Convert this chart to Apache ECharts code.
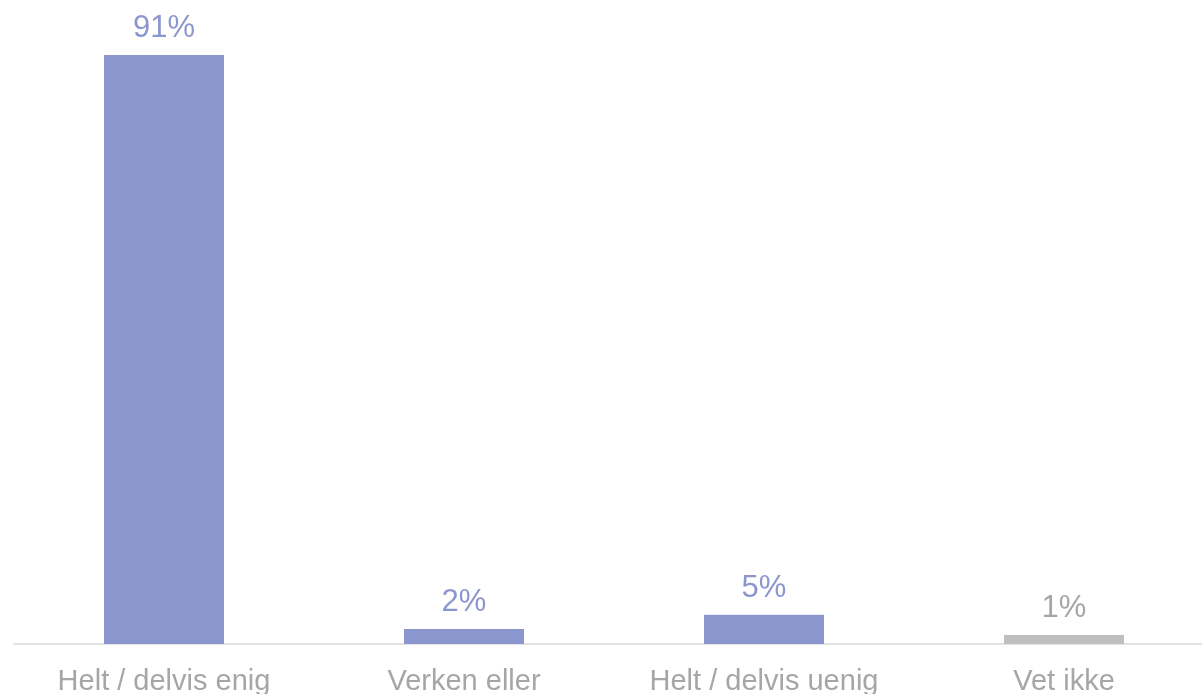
<!DOCTYPE html>
<html>
<head>
<meta charset="utf-8">
<script src="https://cdn.jsdelivr.net/npm/echarts@6/dist/echarts.min.js"></script>
<style>
  html, body { margin: 0; padding: 0; background: #fff; }
  #chart { width: 1202px; height: 694px; }
</style>
</head>
<body>
<div id="chart"></div>
<script>
// svarkategorier og andeler (%)
const categories = ["Helt / delvis enig", "Verken eller", "Helt / delvis uenig", "Vet ikke"];
const shares = [91.0, 2.3, 4.5, 1.4];
const barColors = ["#8C96CE", "#8C96CE", "#8C96CE", "#BFBFBF"];
const labelColors = ["#8C96CE", "#8C96CE", "#8C96CE", "#A6A6A6"];

const chart = echarts.init(document.getElementById("chart"), null, { renderer: "canvas" });

chart.setOption({
  animation: false,
  grid: {
    left: 14,
    width: 1200,
    top: 55,
    bottom: 50,
    containLabel: false,
    outerBoundsMode: "none",
  },
  xAxis: {
    type: "category",
    data: categories,
    axisTick: { show: false },
    axisLine: { show: true, lineStyle: { color: "#D9D9D9", width: 1.5 } },
    axisLabel: {
      color: "#A6A6A6",
      fontFamily: "Liberation Sans, Arial, sans-serif",
      fontSize: 29,
      margin: 23,
      interval: 0,
    },
  },
  yAxis: {
    type: "value",
    min: 0,
    max: 91,
    show: false,
    splitLine: { show: false },
  },
  series: [
    {
      type: "bar",
      barWidth: 120,
      data: shares.map((v, i) => ({
        value: v,
        itemStyle: { color: barColors[i] },
        label: { color: labelColors[i] },
      })),
      label: {
        show: true,
        position: "top",
        distance: 11,
        fontFamily: "Liberation Sans, Arial, sans-serif",
        fontSize: 31,
        formatter: (p) => Math.round(p.value) + "%",
      },
    },
  ],
});
</script>
</body>
</html>
